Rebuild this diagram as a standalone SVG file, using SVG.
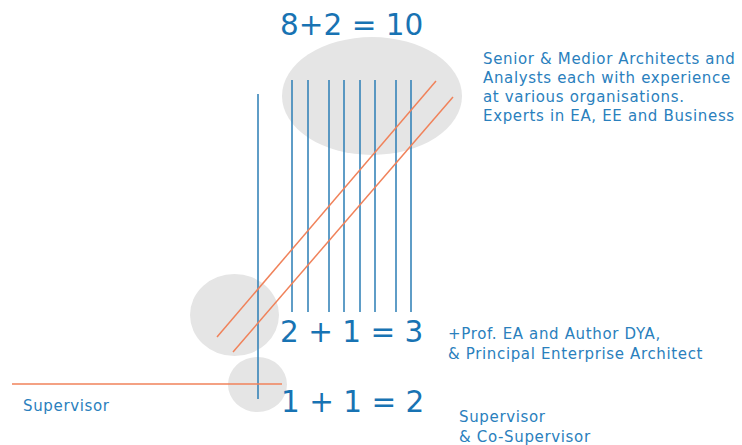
<svg xmlns="http://www.w3.org/2000/svg" width="742" height="445" viewBox="0 0 742 445">
<style>
.blob{fill:#e5e5e5;stroke:none}
.v{stroke:#2a7db5;stroke-width:1.5;fill:none}
.o{stroke:#f0825a;stroke-width:1.5;fill:none}
.big{font-family:"DejaVu Sans",Verdana,sans-serif;font-size:29.5px;fill:#1873b3}
.lbl{font-family:"DejaVu Sans",Verdana,sans-serif;font-size:15px;letter-spacing:0.65px;fill:#2a80bd}
</style>
<rect width="742" height="445" fill="#ffffff"/>
<g id="group-10">
<ellipse class="blob" cx="372" cy="96" rx="90" ry="59"/>
</g>
<g id="group-3">
<ellipse class="blob" cx="234.5" cy="315" rx="44.5" ry="41"/>
</g>
<g id="group-2">
<ellipse class="blob" cx="257.5" cy="384.5" rx="29.5" ry="27.5"/>
</g>
<g id="connectors">
<line class="v" x1="258" y1="94" x2="258" y2="399"/>
<line class="v" x1="292" y1="80" x2="292" y2="312"/>
<line class="v" x1="308" y1="80" x2="308" y2="312"/>
<line class="v" x1="329" y1="80" x2="329" y2="312"/>
<line class="v" x1="344" y1="80" x2="344" y2="312"/>
<line class="v" x1="360" y1="80" x2="360" y2="312"/>
<line class="v" x1="375" y1="80" x2="375" y2="312"/>
<line class="v" x1="396" y1="80" x2="396" y2="312"/>
<line class="v" x1="411" y1="80" x2="411" y2="312"/>
<line class="o" x1="436" y1="81" x2="217" y2="337"/>
<line class="o" x1="453" y1="97" x2="233" y2="352"/>
<line class="o" x1="12" y1="384" x2="282" y2="384"/>
</g>
<g id="texts">
<text class="big" x="280" y="35">8+2 = 10</text>
<text class="big" x="280" y="342">2 + 1 = 3</text>
<text class="big" x="281" y="412">1 + 1 = 2</text>
<text class="lbl" x="483" y="64">Senior &amp; Medior Architects and</text>
<text class="lbl" x="483" y="83">Analysts each with experience</text>
<text class="lbl" x="483" y="102">at various organisations.</text>
<text class="lbl" x="483" y="121">Experts in EA, EE and Business</text>
<text class="lbl" x="448" y="339">+Prof. EA and Author DYA,</text>
<text class="lbl" x="448" y="359">&amp; Principal Enterprise Architect</text>
<text class="lbl" x="459" y="422">Supervisor</text>
<text class="lbl" x="459" y="442">&amp; Co-Supervisor</text>
<text class="lbl" x="23" y="411">Supervisor</text>
</g>
</svg>
